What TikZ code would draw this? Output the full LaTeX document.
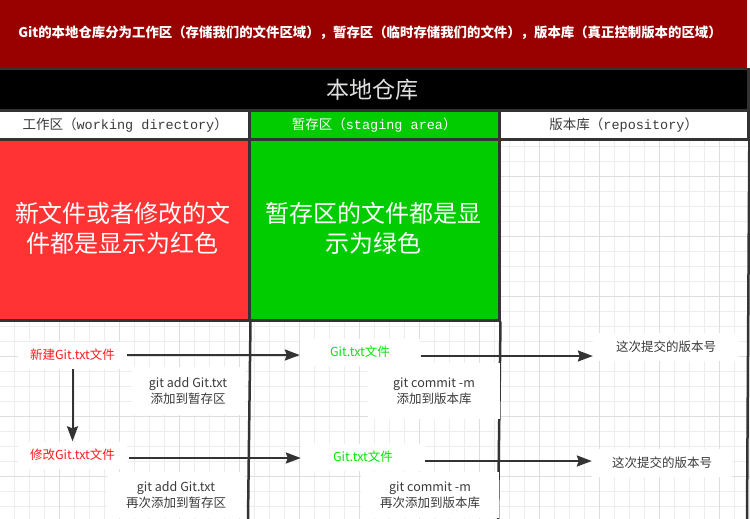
\documentclass[tikz,border=0pt]{standalone}
\usepackage{fontspec}
\setmainfont{Noto Sans CJK SC}
\newfontfamily\monof{Liberation Mono}
\usetikzlibrary{arrows.meta}
\definecolor{hdrred}{HTML}{990000}
\definecolor{boxred}{HTML}{FF3333}
\definecolor{boxgreen}{HTML}{00CC00}
\definecolor{edgec}{HTML}{333333}
\definecolor{gridminor}{HTML}{EDEDED}
\definecolor{gridmajor}{HTML}{DEDEDE}
\definecolor{txtred}{HTML}{FF1A1A}
\definecolor{txtgreen}{HTML}{00E600}
\definecolor{txtgray}{HTML}{3A3A3A}
\tikzset{
  panel/.style={rectangle, inner sep=0pt, draw=edgec, line width=2.5pt},
  border/.style={draw=edgec, line width=2.5pt},
  lbl/.style={rectangle, fill=white, inner sep=0pt, align=center, text=txtgray,
    font=\fontsize{12.5}{16}\selectfont},
  flow/.style={draw=edgec, line width=2pt, -{Stealth[length=15pt,width=11pt,inset=2pt]}},
  bigtxt/.style={text=white, align=center, font=\fontsize{24}{30}\selectfont}
}
\begin{document}
\begin{tikzpicture}[x=1pt,y=-1pt]
\useasboundingbox (0,0) rectangle (750,519);
\fill[white] (0,0) rectangle (750,519);
% grid
\foreach \i in {0,...,49} {\draw[gridminor, line width=1pt] ({14.3+15*\i},138) -- ({14.3+15*\i},519);}
\foreach \j in {9,...,33} {\draw[gridminor, line width=1pt] (0,{11.7+15*\j}) -- (750,{11.7+15*\j});}
\foreach \i in {3,7,...,47} {\draw[gridmajor, line width=1pt] ({14.3+15*\i},138) -- ({14.3+15*\i},519);}
\foreach \j in {11,15,...,31} {\draw[gridmajor, line width=1pt] (0,{11.7+15*\j}) -- (750,{11.7+15*\j});}
% header
\node[rectangle, inner sep=0pt, fill=hdrred, minimum width=747pt, minimum height=68pt, anchor=north west] (hdr) at (0,0) {};
\node[text=white, font=\bfseries\fontsize{13.4}{16}\selectfont] (title) at (370,33)
  {Git的本地仓库分为工作区（存储我们的文件区域），暂存区（临时存储我们的文件），版本库（真正控制版本的区域）};
\node[panel, fill=black, minimum width=751pt, minimum height=41pt, anchor=north west,
  text=white!88!black, font=\fontsize{23}{28}\selectfont] (band) at (-4,68) {本地仓库};
% column headers
\node[panel, fill=white, minimum width=252pt, minimum height=29pt, anchor=north west,
  text=txtgray, font=\fontsize{13.5}{16}\selectfont] (c1) at (-4,109) {\hspace*{4pt}工作区（{\monof working directory}）};
\node[panel, fill=boxgreen, minimum width=250pt, minimum height=29pt, anchor=north west,
  text=white, font=\fontsize{13.5}{16}\selectfont] (c2) at (248,109) {暂存区（{\monof staging area}）};
\node[panel, fill=white, minimum width=249pt, minimum height=29pt, anchor=north west,
  text=txtgray, font=\fontsize{13.5}{16}\selectfont] (c3) at (498,109) {版本库（{\monof repository}）};
% big boxes
\node[panel, fill=boxred, minimum width=252pt, minimum height=181pt, anchor=north west] (redbox) at (-4,138) {};
\node[bigtxt] (redtxt) at (123,228) {新文件或者修改的文\\件都是显示为红色};
\node[panel, fill=boxgreen, minimum width=250pt, minimum height=181pt, anchor=north west] (greenbox) at (248,138) {};
\node[bigtxt] (greentxt) at (373,228) {暂存区的文件都是显\\示为绿色};
% column lines
\coordinate (l1) at (248,519);
\coordinate (l2) at (498,519);
\coordinate (l3) at (747,519);
\draw[border] (redbox.south east) -- (l1);
\draw[border] (greenbox.south east) -- (l2);
\draw[border] (c3.north east) -- (l3);
% labels
\node[lbl, text=txtred, minimum width=109pt, minimum height=27pt] (n1) at (72.5,355) {新建Git.txt文件};
\node[lbl, text=txtred, minimum width=109pt, minimum height=27pt] (n2) at (72.5,455) {修改Git.txt文件};
\node[lbl, minimum width=113pt, minimum height=48pt] (a1) at (188,391) {git add Git.txt\\添加到暂存区};
\node[lbl, minimum width=138pt, minimum height=46pt] (a2) at (176,495) {git add Git.txt\\再次添加到暂存区};
\node[lbl, text=txtgreen, minimum width=120pt, minimum height=27pt] (g1) at (360,352) {Git.txt文件};
\node[lbl, text=txtgreen, minimum width=124pt, minimum height=27pt] (g2) at (363,457) {Git.txt文件};
\node[lbl, minimum width=132pt, minimum height=56pt] (m1) at (434,391) {git commit -m\\添加到版本库};
\node[lbl, minimum width=138pt, minimum height=46pt] (m2) at (430,495) {git commit -m\\再次添加到版本库};
\node[lbl, minimum width=146pt, minimum height=28pt] (v1) at (666,347) {这次提交的版本号};
\node[lbl, minimum width=140pt, minimum height=28pt] (v2) at (662,463) {这次提交的版本号};
% arrows
\draw[flow] (n1.south) -- (n2.north);
\draw[flow] (n1.east) -- (g1.west |- n1.east);
\draw[flow] (n2.east) ++(2,3) -- (g2.west |- 0,458);
\draw[flow] (g1.east |- 0,356) ++(1,0) -- (v1.west |- 0,356);
\draw[flow] (g2.east |- 0,461) -- (v2.west |- 0,461);
\end{tikzpicture}
\end{document}
